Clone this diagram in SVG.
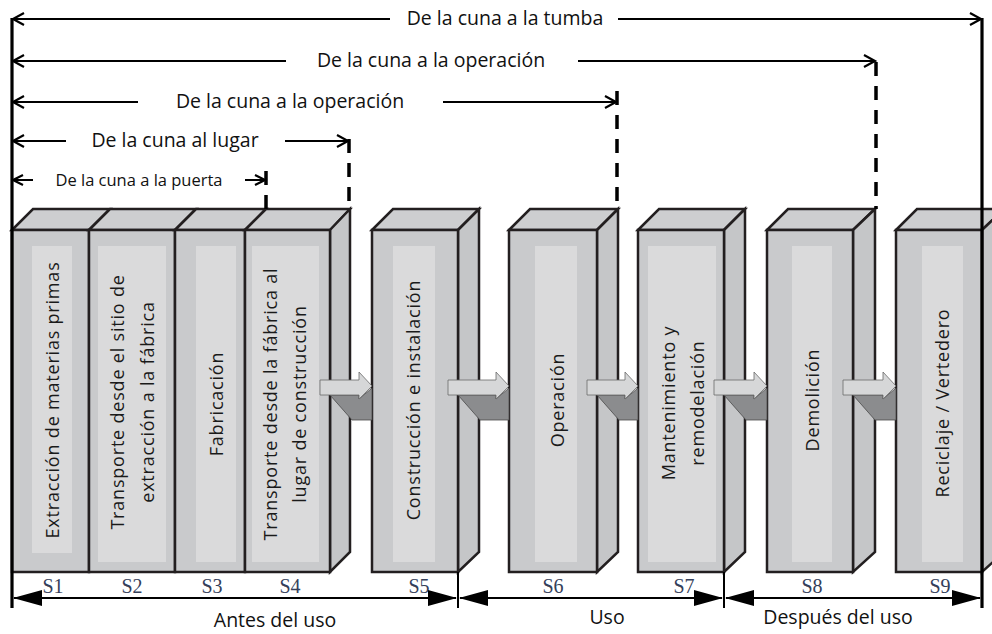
<svg xmlns="http://www.w3.org/2000/svg" width="992" height="634" viewBox="0 0 992 634">
<defs>
<style>
.front{fill:#c9cacc;stroke:#231f20;stroke-width:2.5;stroke-linejoin:miter}
.topf{fill:#cdced0;stroke:#231f20;stroke-width:2.5;stroke-linejoin:miter}
.side{fill:#c5c6c8;stroke:#231f20;stroke-width:2.5;stroke-linejoin:miter}
.panel{fill:#dadadb}
.lbl{font-family:"Open Sans","DejaVu Sans",sans-serif;font-size:18px;letter-spacing:0.8px;fill:#1a1a1a;text-anchor:middle}
.ttl{font-family:"Open Sans","DejaVu Sans",sans-serif;font-size:19.5px;fill:#111;text-anchor:middle}
.sm{font-size:16.5px}
.sl{font-family:"Liberation Serif","Times New Roman",serif;font-size:20px;fill:#34405a;text-anchor:middle}
.ln{stroke:#000;stroke-width:2.2;fill:none}
.chev{stroke:#000;stroke-width:2.2;fill:none;stroke-linejoin:miter}
.dash{stroke:#000;stroke-width:3.5;stroke-dasharray:14 10;fill:none}
.thick{stroke:#000;stroke-width:3.2;fill:none}
.tick{stroke:#000;stroke-width:2;fill:none}
.ah{fill:#000}
.la{fill:#d6d7d8;stroke:#6a6a6a;stroke-width:0.8}
.da{fill:#8b8c8e;stroke:#4a4a4a;stroke-width:0.8}
</style>
</defs>
<rect x="0" y="0" width="992" height="634" fill="#fff"/>

<g id="S1">
<polygon class="topf" points="12,230 33,209 110,209 89,230"/>
<rect class="front" x="12" y="230" width="77" height="342"/>
<rect class="panel" x="32" y="246" width="40" height="307"/>
<text class="lbl" transform="translate(59,400) rotate(-90)">Extracción de materias primas</text>
</g>
<g id="S2">
<polygon class="topf" points="89,230 110,209 196,209 175,230"/>
<rect class="front" x="89" y="230" width="86" height="342"/>
<rect class="panel" x="98" y="246" width="68" height="316"/>
<text class="lbl" transform="translate(124,402) rotate(-90)">Transporte desde el sitio de</text>
<text class="lbl" transform="translate(154,402) rotate(-90)">extracción a la fábrica</text>
</g>
<g id="S3">
<polygon class="topf" points="175,230 196,209 266,209 245,230"/>
<rect class="front" x="175" y="230" width="70" height="342"/>
<rect class="panel" x="196" y="246" width="40" height="316"/>
<text class="lbl" transform="translate(223,404) rotate(-90)">Fabricación</text>
</g>
<g id="S4">
<polygon class="topf" points="245,230 266,209 350,209 330,230"/>
<polygon class="side" points="330,230 350,209 350,552 330,572"/>
<rect class="front" x="245" y="230" width="85" height="342"/>
<rect class="panel" x="252" y="246" width="67" height="316"/>
<text class="lbl" transform="translate(277,404) rotate(-90)">Transporte desde la fábrica al</text>
<text class="lbl" transform="translate(306,404) rotate(-90)">lugar de construcción</text>
</g>
<g id="S5">
<polygon class="topf" points="372,230 393,209 479,209 458,230"/>
<polygon class="side" points="458,230 479,209 479,552 458,572"/>
<rect class="front" x="372" y="230" width="86" height="342"/>
<rect class="panel" x="393" y="246" width="42" height="316"/>
<text class="lbl" transform="translate(420,400) rotate(-90)">Construcción e instalación</text>
</g>
<g id="S6">
<polygon class="topf" points="509,230 530,209 618,209 597,230"/>
<polygon class="side" points="597,230 618,209 618,552 597,572"/>
<rect class="front" x="509" y="230" width="88" height="342"/>
<rect class="panel" x="535" y="246" width="42" height="316"/>
<text class="lbl" transform="translate(564,400) rotate(-90)">Operación</text>
</g>
<g id="S7">
<polygon class="topf" points="638,230 659,209 745,209 724,230"/>
<polygon class="side" points="724,230 745,209 745,552 724,572"/>
<rect class="front" x="638" y="230" width="86" height="342"/>
<rect class="panel" x="648" y="246" width="68" height="316"/>
<text class="lbl" transform="translate(675,403) rotate(-90)">Mantenimiento y</text>
<text class="lbl" transform="translate(704,403) rotate(-90)">remodelación</text>
</g>
<g id="S8">
<polygon class="topf" points="767,230 788,209 875,209 853,230"/>
<polygon class="side" points="853,230 875,209 875,552 853,572"/>
<rect class="front" x="767" y="230" width="86" height="342"/>
<rect class="panel" x="792" y="246" width="40" height="316"/>
<text class="lbl" transform="translate(819,400) rotate(-90)">Demolición</text>
</g>
<g id="S9">
<polygon class="topf" points="896,230 917,209 1004,209 982,230"/>
<polygon class="side" points="982,230 1004,209 1004,552 982,572"/>
<rect class="front" x="896" y="230" width="86" height="342"/>
<rect class="panel" x="922" y="246" width="41" height="316"/>
<text class="lbl" transform="translate(949,403) rotate(-90)">Reciclaje / Vertedero</text>
</g>

<g id="connectors">
<polygon class="da" points="330,395 359,395 359,399 372,388 372,420 352,420"/>
<polygon class="la" points="320,380 359,380 359,372 372,386 359,399 359,395 320,395"/>
<polygon class="da" points="458,395 496,395 496,399 509,388 509,420 480,420"/>
<polygon class="la" points="448,380 496,380 496,372 509,386 496,399 496,395 448,395"/>
<polygon class="da" points="597,395 625,395 625,399 638,388 638,420 619,420"/>
<polygon class="la" points="587,380 625,380 625,372 638,386 625,399 625,395 587,395"/>
<polygon class="da" points="724,395 754,395 754,399 767,388 767,420 746,420"/>
<polygon class="la" points="714,380 754,380 754,372 767,386 754,399 754,395 714,395"/>
<polygon class="da" points="853,395 883,395 883,399 896,388 896,420 875,420"/>
<polygon class="la" points="843,380 883,380 883,372 896,386 883,399 883,395 843,395"/>
</g>

<g id="scopes">
<line class="thick" x1="12" y1="18" x2="12" y2="608"/>
<line class="thick" x1="982" y1="18" x2="982" y2="608"/>
<path class="ln" d="M12,19 H390 M618,19 H981"/>
<path class="chev" d="M24,13 L13,19 L24,25 M970,13 L981,19 L970,25"/>
<text class="ttl" x="505" y="25">De la cuna a la tumba</text>
<path class="ln" d="M12,61 H286 M578,61 H875"/>
<path class="chev" d="M24,55 L13,61 L24,67 M864,55 L875,61 L864,67"/>
<text class="ttl" x="431" y="67">De la cuna a la operación</text>
<path class="dash" d="M876,62 V209"/>
<path class="ln" d="M12,102 H138 M443,102 H616"/>
<path class="chev" d="M24,96 L13,102 L24,108 M605,96 L616,102 L605,108"/>
<text class="ttl" x="290" y="108">De la cuna a la operación</text>
<path class="dash" d="M617,91 V209"/>
<path class="ln" d="M12,141 H66 M285,141 H348"/>
<path class="chev" d="M24,135 L13,141 L24,147 M337,135 L348,141 L337,147"/>
<text class="ttl" x="175" y="147">De la cuna al lugar</text>
<path class="dash" d="M349,139 V209"/>
<path class="ln" d="M12,180 H33 M245,180 H265"/>
<path class="chev" d="M23,175 L13,180 L23,185 M255,175 L265,180 L255,185"/>
<text class="ttl sm" x="139" y="186">De la cuna a la puerta</text>
<path class="dash" d="M266,171 V209"/>
</g>

<g id="phases">
<line class="tick" x1="458" y1="572" x2="458" y2="608"/>
<line class="tick" x1="724" y1="572" x2="724" y2="608"/>
<text class="sl" x="53" y="593">S1</text>
<text class="sl" x="132" y="593">S2</text>
<text class="sl" x="212" y="593">S3</text>
<text class="sl" x="290" y="593">S4</text>
<text class="sl" x="419" y="593">S5</text>
<text class="sl" x="553" y="593">S6</text>
<text class="sl" x="684" y="593">S7</text>
<text class="sl" x="812" y="593">S8</text>
<text class="sl" x="940" y="593">S9</text>
<path class="ln" d="M14,598 H456 M460,598 H722 M726,598 H980"/>
<polygon class="ah" points="13,598 42,590 42,606"/>
<polygon class="ah" points="457,598 428,590 428,606"/>
<polygon class="ah" points="459,598 488,590 488,606"/>
<polygon class="ah" points="723,598 694,590 694,606"/>
<polygon class="ah" points="725,598 754,590 754,606"/>
<polygon class="ah" points="981,598 952,590 952,606"/>
<text class="ttl" x="275" y="627">Antes del uso</text>
<text class="ttl" x="607" y="624">Uso</text>
<text class="ttl" x="838" y="624">Después del uso</text>
</g>
</svg>
